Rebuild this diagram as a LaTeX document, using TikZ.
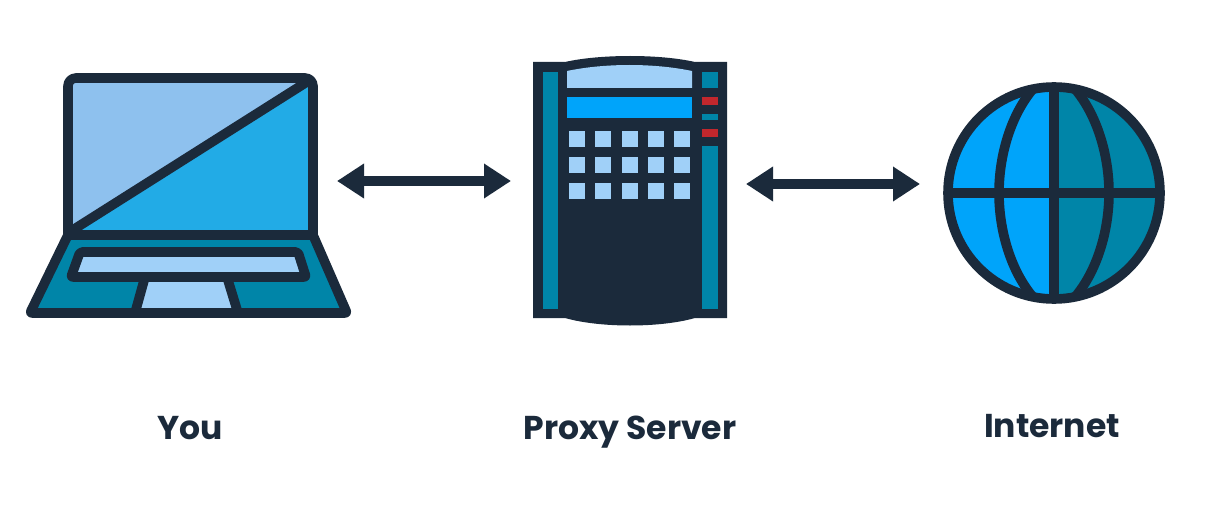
\documentclass[tikz,border=0pt]{standalone}
\usepackage{fontspec}
\setmainfont{Poppins}
\usetikzlibrary{arrows.meta,positioning}
\definecolor{pxdark}{HTML}{1B2A3B}
\definecolor{pxsky}{HTML}{8EC1EE}
\definecolor{pxpale}{HTML}{A0D0F8}
\definecolor{pxcyan}{HTML}{22ABE6}
\definecolor{pxblue}{HTML}{00A4FA}
\definecolor{pxteal}{HTML}{0085A8}
\definecolor{pxred}{HTML}{C1272D}
\tikzset{
  outline/.style={draw=pxdark,line width=9.6pt,line join=round,line cap=round},
  caption/.style={font=\fontsize{33}{36}\selectfont\bfseries,text=pxdark,inner sep=0pt,anchor=base},
  ar/.style={{Triangle[length=27pt,width=33pt]}-{Triangle[length=27pt,width=33pt]},draw=pxdark,line width=10pt},
}
\begin{document}
\begin{tikzpicture}[x=1pt,y=-1pt]
    \useasboundingbox (0,0) rectangle (1218,524);
    % laptop
    \fill[pxsky] (68,78)--(313,78)--(68,235)--cycle;
    \fill[pxcyan] (313,78)--(313,235)--(68,235)--cycle;
    \fill[pxteal] (68,235)--(313,235)--(347,313)--(30,313)--cycle;
    \fill[pxpale] (145,277)--(227,277)--(238,313)--(135,313)--cycle;
    \draw[outline,fill=pxpale,rounded corners=2pt] (80,252)--(298,252)--(306,277)--(71,277)--cycle;
    \draw[outline,rounded corners=8pt] (68,235)--(68,78)--(313,78)--(313,235);
    \draw[outline] (310,80)--(68,233);
    \draw[outline,rounded corners=2pt] (68,235)--(313,235)--(347,313)--(30,313)--cycle;
    \draw[outline] (145,277)--(135,313) (227,277)--(238,313);
    % server
    \fill[pxdark] (533,62)--(565,62) .. controls (600,54) and (660,54) .. (695,62)--(727,62)--(727,318)--(695,318) .. controls (660,328) and (600,328) .. (565,318)--(533,318)--cycle;
    \fill[pxteal] (543,72) rectangle (558,309);
    \fill[pxpale] (567,71) .. controls (605,63) and (654,63) .. (692,71)--(692,88)--(567,88)--cycle;
    \fill[pxblue] (567,97) rectangle (692,118);
    \foreach \x in {569,595,622,648,674}
      \foreach \y in {131,157,183}
        \fill[pxpale] (\x,\y) rectangle ++(16,16);
    \fill[pxteal] (702,72) rectangle (718,88);
    \fill[pxred] (702,97) rectangle (718,105);
    \fill[pxteal] (702,114) rectangle (718,120);
    \fill[pxred] (702,129) rectangle (718,137);
    \fill[pxteal] (702,146) rectangle (718,309);
    % globe
    \fill[pxblue] (1054,87) arc[start angle=-90,delta angle=-180,radius=106];
    \fill[pxteal] (1054,87) arc[start angle=-90,delta angle=180,radius=106];
    \draw[outline] (1054,193) circle[radius=106];
    \draw[outline] (1054,87)--(1054,299) (948,193)--(1160,193);
    \draw[outline,line cap=butt] (1033,89) .. controls (1011,115) and (999,155) .. (999,193) .. controls (999,231) and (1011,271) .. (1033,297);
    \draw[outline,line cap=butt] (1075,89) .. controls (1097,115) and (1109,155) .. (1109,193) .. controls (1109,231) and (1097,271) .. (1075,297);
    % arrows
    \coordinate (laptopr) at (337,181);
    \coordinate (serverl) at (511,181);
    \coordinate (serverr) at (746,184);
    \coordinate (globel) at (920,184);
    \draw[ar] (laptopr)--(serverl);
    \draw[ar] (serverr)--(globel);
    % labels
    \node[caption] (you) at (190,439) {You};
    \node[caption] (proxy) at (630,439) {Proxy Server};
    \node[caption] (internet) at (1052,437) {Internet};
\end{tikzpicture}
\end{document}
